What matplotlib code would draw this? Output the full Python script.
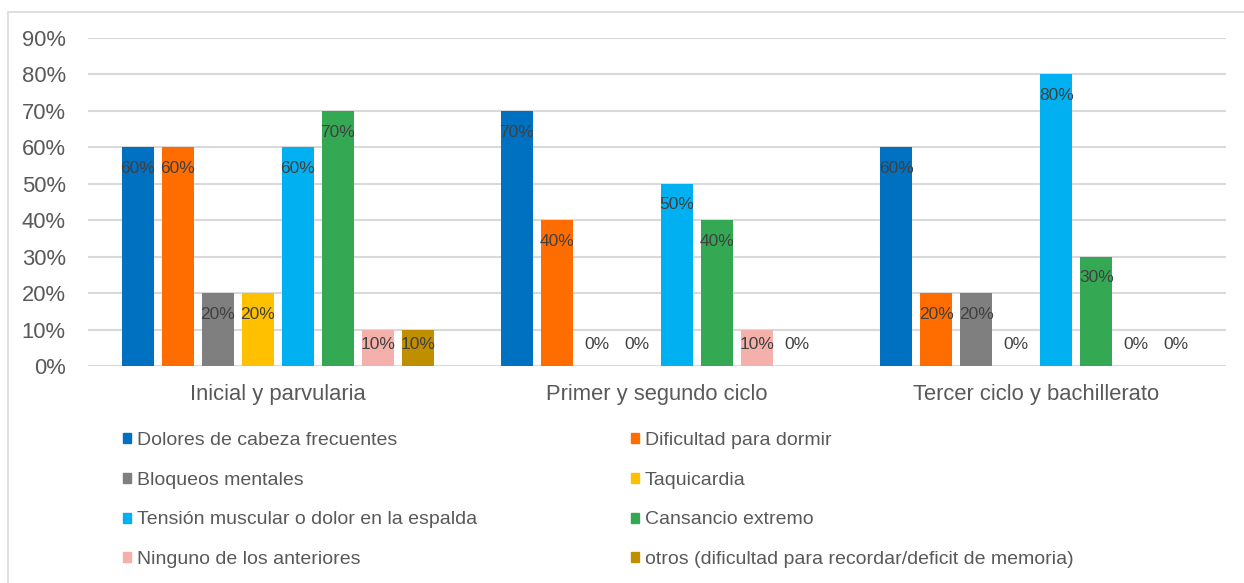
import numpy as np
import matplotlib.pyplot as plt
from matplotlib.patches import Rectangle, Patch

plt.rcParams['font.family'] = ['Liberation Sans', 'DejaVu Sans']

# datos
grupos = ['Inicial y parvularia', 'Primer y segundo ciclo', 'Tercer ciclo y bachillerato']
series = ['Dolores de cabeza frecuentes', 'Dificultad para dormir', 'Bloqueos mentales',
          'Taquicardia', 'Tensión muscular o dolor en la espalda', 'Cansancio extremo',
          'Ninguno de los anteriores', 'otros (dificultad para recordar/deficit de memoria)']
dolores = [0.6, 0.7, 0.6]
dormir = [0.6, 0.4, 0.2]
bloqueos = [0.2, 0.0, 0.2]
taquicardia = [0.2, 0.0, 0.0]
tension = [0.6, 0.5, 0.8]
cansancio = [0.7, 0.4, 0.3]
ninguno = [0.1, 0.1, 0.0]
otros = [0.1, 0.0, 0.0]
valores = [dolores, dormir, bloqueos, taquicardia, tension, cansancio, ninguno, otros]
colores = ['#0070C0', '#FF6D00', '#7F7F7F', '#FFC000', '#00B0F0', '#34A853', '#F4B0AB', '#BF8F00']

W, H = 1244, 583
fig = plt.figure(figsize=(W / 100, H / 100), dpi=100)
ax = fig.add_axes([88 / W, 1 - 366 / H, (1226 - 88) / W, (366 - 38) / H])

# marco exterior
fig.patches.append(Rectangle((8 / W, -0.01), 1.0, 1 - 12 / H + 0.01, transform=fig.transFigure,
                             fill=False, edgecolor='#D9D9D9', linewidth=1.2))

x = np.arange(len(grupos))
ancho = 0.084
paso = 0.1055
for i, (nombre, vals, col) in enumerate(zip(series, valores, colores)):
    pos = x + (i - 3.5) * paso
    ax.bar(pos, vals, width=ancho, color=col, label=nombre, zorder=3)
    for px, v in zip(pos, vals):
        y_lab = max(v - 0.058, 0.058)
        ax.text(px, y_lab, f'{v * 100:.0f}%', ha='center', va='center',
                fontsize=12.5, color='#404040', zorder=4)

ax.set_ylim(0, 0.9)
ax.set_xlim(-0.5, 2.5)
ax.set_yticks(np.arange(0, 0.91, 0.1))
ax.set_yticklabels([f'{t}%' for t in range(0, 91, 10)])
ax.set_xticks(x)
ax.set_xticklabels(grupos)
ax.tick_params(axis='both', length=0, labelsize=15.8, colors='#595959')
ax.tick_params(axis='y', pad=16)
ax.tick_params(axis='x', pad=13)
ax.grid(axis='y', color='#D9D9D9', linewidth=1.5, zorder=0)
for s in ax.spines.values():
    s.set_visible(False)

# leyenda en dos columnas, orden por filas
orden = [0, 2, 4, 6, 1, 3, 5, 7]
handles = [Patch(color=colores[k]) for k in orden]
labels = [series[k] for k in orden]
fig.legend(handles, labels, ncol=2, loc='upper left', bbox_to_anchor=(123 / W, 1 - 432 / H),
           frameon=False, fontsize=14, labelcolor='#595959', handlelength=0.42, handleheight=0.42,
           handletextpad=0.3, columnspacing=7.9, labelspacing=1.17, borderaxespad=0, borderpad=0)

fig.savefig('out.png', dpi=100)
